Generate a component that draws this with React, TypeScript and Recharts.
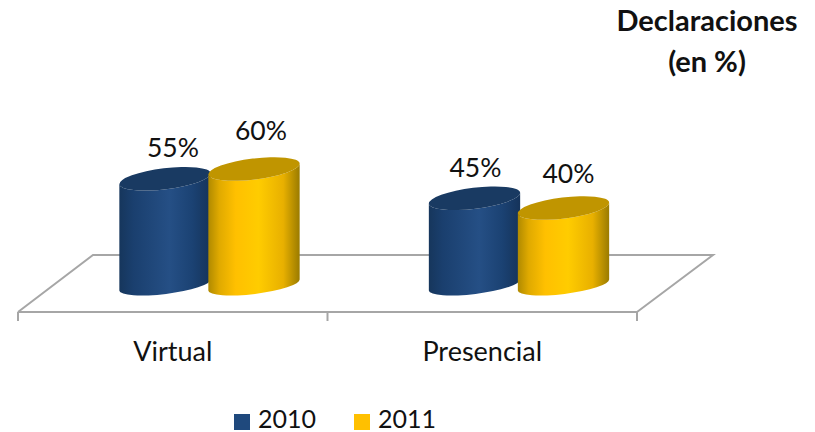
import React from 'react';
import { BarChart, Bar, XAxis, YAxis, Legend, LabelList, Customized, usePlotArea } from 'recharts';

const categories = ['Virtual', 'Presencial'];
const values2010 = [55, 45];
const values2011 = [60, 40];
const seriesNames = ['2010', '2011'];
const titleLines = ['Declaraciones', '(en %)'];

const rows = categories.map((name, i) => ({ name, a: values2010[i], b: values2011[i] }));

const FONT = 'Lato, Carlito, sans-serif';
const SHIFT_X = 37;
const SHIFT_Y = -26;
const TILT = 7;
const RY = 10.5;
const RY_BOTTOM = 9;
const DEPTH_X = 75;
const DEPTH_Y = 57;
const GREY = '#a6a6a6';

const palettes: Record<string, { stops: [string, string][]; top: string; legend: string }> = {
  blue: {
    stops: [['0', '#16365c'], ['0.15', '#1a3f6e'], ['0.55', '#254f85'], ['0.8', '#1b4273'], ['1', '#15335a']],
    top: '#193a62',
    legend: '#1f497d',
  },
  gold: {
    stops: [['0', '#b08a00'], ['0.12', '#e0aa00'], ['0.3', '#ffc000'], ['0.55', '#ffcc00'], ['0.82', '#e8b000'], ['1', '#9a7b00']],
    top: '#c09500',
    legend: '#ffc000',
  },
};

function Cylinder(props: any) {
  const { x, y, width, height, palette, index } = props;
  const p = palettes[palette];
  const rx = width / 2;
  const cx = x + rx + SHIFT_X;
  const topY = y + SHIFT_Y;
  const botY = y + height + SHIFT_Y - 1;
  const rad = (TILT * Math.PI) / 180;
  const ex = rx * Math.cos(rad);
  const ey = rx * Math.sin(rad);
  const id = `cyl-${palette}-${index}`;
  const body = `M${cx - ex} ${topY + ey} L${cx - ex} ${botY + ey} A${rx} ${RY_BOTTOM} ${-TILT} 0 0 ${cx + ex} ${botY - ey} L${cx + ex} ${topY - ey} A${rx} ${RY} ${-TILT} 0 1 ${cx - ex} ${topY + ey} Z`;
  return (
    <g>
      <defs>
        <linearGradient id={id} x1="0" y1="0" x2="1" y2="0">
          {p.stops.map(([o, c]) => (
            <stop key={o} offset={o} stopColor={c} />
          ))}
        </linearGradient>
      </defs>
      <path d={body} fill={`url(#${id})`} />
      <ellipse cx={cx} cy={topY} rx={rx} ry={RY} fill={p.top} transform={`rotate(${-TILT} ${cx} ${topY})`} />
    </g>
  );
}

function Floor() {
  const plot = usePlotArea();
  if (!plot) return null;
  const { x, y, width, height } = plot;
  const bottom = y + height;
  const right = x + width;
  const ticks = categories.map((_, i) => x + (width * i) / categories.length).concat(right);
  return (
    <g fill="none" stroke={GREY} strokeWidth={2}>
      <path d={`M${x} ${bottom} L${x + DEPTH_X} ${bottom - DEPTH_Y} L${right + DEPTH_X + 1} ${bottom - DEPTH_Y} L${right} ${bottom}`} />
      {ticks.map((t) => (
        <line key={t} x1={t} x2={t} y1={bottom} y2={bottom + 9} />
      ))}
    </g>
  );
}

const nudges: Record<string, [number, number][]> = {
  a: [[8, -32], [1, -31]],
  b: [[7, -39], [5, -35]],
};

function valueLabel(key: string) {
  return (props: any) => {
    const { x, y, width, value, index } = props;
    const [dx, dy] = nudges[key][index];
    return (
      <text
        x={x + width / 2 + SHIFT_X + dx}
        y={y + SHIFT_Y + dy}
        textAnchor="middle"
        dominantBaseline="central"
        fontFamily={FONT}
        fontSize={26.5}
        fill="#111"
      >
        {value}%
      </text>
    );
  };
}

function LegendBox({ payload }: any) {
  return (
    <div style={{ display: 'flex', alignItems: 'center', fontFamily: FONT, fontSize: 25, lineHeight: '24px', color: '#111', height: 24 }}>
      {(payload || []).map((e: any, i: number) => (
        <span key={e.value} style={{ display: 'flex', alignItems: 'center', marginRight: i === 0 ? 38 : 0 }}>
          <span style={{ width: 16, height: 16, background: e.color, marginRight: 8, marginTop: 8, display: 'inline-block' }} />
          {e.value}
        </span>
      ))}
    </div>
  );
}

export default function App() {
  return (
    <div style={{ position: 'absolute', left: 0, top: 0, width: 815, height: 432, background: '#fff', overflow: 'hidden' }}>
      <BarChart
        width={815}
        height={432}
        data={rows}
        margin={{ top: 117, right: 178, bottom: 66, left: 18 }}
        barSize={92}
        barGap={-3}
      >
        <XAxis
          dataKey="name"
          axisLine={{ stroke: GREY, strokeWidth: 2 }}
          tickLine={false}
          tickMargin={24}
          tick={{ fontFamily: FONT, fontSize: 27, fill: '#111' }}
        />
        <YAxis hide domain={[0, 100]} />
        <Customized component={Floor} />
        <Bar
          dataKey="a"
          name={seriesNames[0]}
          fill={palettes.blue.legend}
          isAnimationActive={false}
          shape={(p: any) => <Cylinder {...p} palette="blue" />}
        >
          <LabelList dataKey="a" content={valueLabel('a')} />
        </Bar>
        <Bar
          dataKey="b"
          name={seriesNames[1]}
          fill={palettes.gold.legend}
          isAnimationActive={false}
          shape={(p: any) => <Cylinder {...p} palette="gold" />}
        >
          <LabelList dataKey="b" content={valueLabel('b')} />
        </Bar>
        <Legend
          content={<LegendBox />}
          wrapperStyle={{ position: 'absolute', left: 234, top: 406, width: 260, bottom: 'auto' }}
        />
      </BarChart>
      <div
        style={{
          position: 'absolute',
          left: 607,
          top: -1,
          width: 200,
          textAlign: 'center',
          fontFamily: FONT,
          fontWeight: 700,
          fontSize: 29,
          lineHeight: '41px',
          color: '#111',
        }}
      >
        {titleLines.map((t) => (
          <div key={t}>{t}</div>
        ))}
      </div>
    </div>
  );
}
